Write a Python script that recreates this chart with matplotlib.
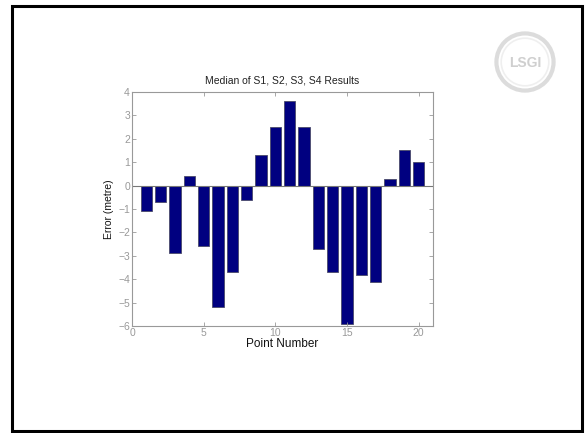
import matplotlib.pyplot as plt
from matplotlib.patches import Rectangle, Circle

# median error per survey point
points = list(range(1, 21))
errors = [-1.1, -0.7, -2.9, 0.4, -2.6, -5.2, -3.7, -0.6, 1.3, 2.5,
          3.63, 2.5, -2.73, -3.7, -5.9, -3.8, -4.1, 0.3, 1.5, 1.0]
xticks = [0, 5, 10, 15, 20]
yticks = [-6, -5, -4, -3, -2, -1, 0, 1, 2, 3, 4]

W, H = 585, 433
fig = plt.figure(figsize=(W / 100, H / 100), dpi=100)
fig.patch.set_facecolor('white')

# slide frame
fig.patches.append(Rectangle((11.5 / W, 1 - 430.5 / H), 570 / W, 425 / H,
                             transform=fig.transFigure, fill=False,
                             edgecolor='black', linewidth=2.2))

# faded logo in the corner
logo = fig.add_axes([491 / W, 1 - 96 / H, 68 / W, 68 / H])
logo.set_xlim(-1, 1)
logo.set_ylim(-1, 1)
logo.set_aspect('equal')
logo.axis('off')
logo.add_patch(Circle((0, 0), 0.84, fill=False, edgecolor='#dcdcdc', linewidth=3.0))
logo.add_patch(Circle((0, 0), 0.70, fill=False, edgecolor='#efefef', linewidth=1.2))
logo.text(0, -0.02, 'LSGI', ha='center', va='center', fontsize=10,
          fontweight='bold', color='#cfcfcf', family='Liberation Sans')

ax = fig.add_axes([132 / W, 1 - 326 / H, 301 / W, 234 / H])
ax.bar(points, errors, width=0.8, color='#000080', edgecolor='#4a4a6a', linewidth=0.6)
ax.axhline(0, color='#777777', linewidth=0.8)
ax.set_xlim(0, 21)
ax.set_ylim(-6, 4)
ax.set_xticks(xticks)
ax.set_yticks(yticks)
ax.tick_params(direction='in', length=3, width=0.6, top=True, right=True,
               labelsize=7.5, colors='#999999', pad=1.5)
for s in ax.spines.values():
    s.set_color('#999999')
    s.set_linewidth(0.8)

font = 'Liberation Sans'
ax.set_title('Median of S1, S2, S3, S4 Results', fontsize=7.5, color='#222222',
             family=font, pad=6)
ax.set_xlabel('Point Number', fontsize=8.5, color='#111111', family=font, labelpad=0)
ax.set_ylabel('Error (metre)', fontsize=7.5, color='#111111', family=font, labelpad=3)
for lab in ax.get_xticklabels() + ax.get_yticklabels():
    lab.set_family(font)

fig.savefig('out.png', dpi=100)
